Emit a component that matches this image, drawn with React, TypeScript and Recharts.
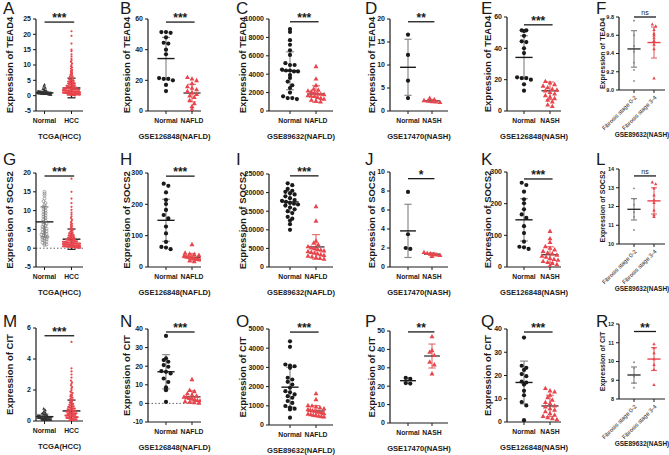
import React from 'react';
import { ScatterChart, Scatter, XAxis, YAxis, ReferenceLine } from 'recharts';

const FONT = '"Liberation Sans", Arial, Helvetica, sans-serif';
const RED = '#e8454d';
const INK = '#1a1a1a';

// ---------- TEAD4 ----------
const tead4TcgaNormal = [3.6, 3.0, 2.6, 2.2, 1.9, 1.7, 1.5, 1.4, 1.35, 1.3, 1.25, 1.2, 1.2, 1.15, 1.1, 1.1, 1.05, 1.0, 1.0, 1.0, 0.95, 0.95, 0.9, 0.9, 0.9, 0.85, 0.85, 0.8, 0.8, 0.8, 0.75, 0.75, 0.7, 0.7, 0.7, 0.65, 0.65, 0.6, 0.6, 0.55, 0.5, 0.5, 0.45, 0.4, 0.35];
const tead4TcgaHcc = [21, 19.5, 17, 15, 14.5, 13.5, 12.8, 12, 11.5, 11, 10.5, 10, 9.6, 9.2, 8.8, 8.4, 8, 7.7, 7.4, 7.1, 6.8, 6.5, 6.3, 6.1, 5.9, 5.7, 5.5, 5.3, 5.1, 5.0, 4.9, 4.8, 4.6, 4.5, 4.4, 4.3, 4.2, 4.1, 4.0, 3.9, 3.8, 3.7, 3.6, 3.5, 3.4, 3.3, 3.2, 3.1, 3.0, 3.0, 2.9, 2.8, 2.8, 2.7, 2.6, 2.6, 2.5, 2.5, 2.4, 2.4, 2.3, 2.3, 2.2, 2.2, 2.1, 2.1, 2.0, 2.0, 1.9, 1.9, 1.9, 1.8, 1.8, 1.8, 1.7, 1.7, 1.7, 1.6, 1.6, 1.6, 1.5, 1.5, 1.5, 1.5, 1.4, 1.4, 1.4, 1.3, 1.3, 1.3, 1.3, 1.2, 1.2, 1.2, 1.2, 1.1, 1.1, 1.1, 1.1, 1.0, 1.0, 1.0, 1.0, 0.9, 0.9, 0.9, 0.9, 0.8, 0.8, 0.8, 0.8, 0.7, 0.7, 0.7, 0.7, 0.6, 0.6, 0.6, 0.6, 0.5, 0.5, 0.5, 0.5, 0.4, 0.4, 0.4, 0.4, 0.3, 0.3, 0.3, 0.2, 0.2, 0.2, 0.1, 0.1];
const tead4TcgaMean = [0.9, 2.5];
const tead4TcgaSd = [0.5, 3.2];

const tead4G126848Normal = [51.5, 51, 51.5, 48, 44.5, 44, 40, 37, 21.5, 21, 21, 20, 17, 13];
const tead4G126848Nafld = [22, 21, 20, 18, 16, 15, 14, 13, 12, 11, 10, 9, 7, 5, 3, 1];
const tead4G126848NafldMean = [34.2, 11.7];
const tead4G126848NafldSd = [13.8, 5.7];

const tead4G89632Normal = [8900, 8600, 7700, 7200, 6600, 6100, 5200, 5000, 5000, 4500, 4400, 4400, 4300, 4300, 3900, 3600, 3200, 2800, 2500, 2000, 1600, 1400, 1400, 1300];
const tead4G89632Nafld = [4850, 3500, 2800, 2400, 2300, 2200, 2100, 2000, 1900, 1850, 1800, 1700, 1650, 1600, 1500, 1400, 1300, 1200, 1100, 1000];
const tead4G89632Mean = [4370, 1850];
const tead4G89632Sd = [2060, 900];

const tead4G17470Normal = [16.6, 12.2, 6.6, 2.8];
const tead4G17470Nash = [2.8, 2.5, 2.3, 2.2, 2.1, 2.0, 1.9];
const tead4G17470Mean = [9.5, 2.2];
const tead4G17470Sd = [6.1, 0.3];

const tead4G126848Nash = [19, 18, 17, 16, 15, 14, 13.5, 13, 12, 11, 10, 9, 8, 7, 6, 4, 3];
const tead4G126848NashMean = [34.2, 12.9];
const tead4G126848NashSd = [13.8, 5.6];

const tead4FibLow = [9.76, 9.6, 9.48, 9.42, 9.3, 9.22, 9.1];
const tead4FibHigh = [9.72, 9.7, 9.66, 9.62, 9.6, 9.57, 9.54, 9.5, 9.45, 9.13];
const tead4FibMean = [9.45, 9.52];
const tead4FibSd = [0.2, 0.17];

// ---------- SOCS2 ----------
const socs2TcgaNormal = [15, 14.5, 14, 13.2, 12.5, 12, 11.5, 11, 10.8, 10.5, 10, 9.7, 9.4, 9, 8.7, 8.4, 8, 7.7, 7.4, 7, 6.8, 6.5, 6.2, 6, 5.7, 5.4, 5.2, 5, 4.7, 4.5, 4.2, 4, 3.8, 3.6, 3.4, 3.2, 3, 2.8, 2.6, 2.4, 2.2, 2, 1.8, 1.5, 1.2, 1, 0.8];
const socs2TcgaHcc = [18.5, 15, 13.2, 12, 11, 10.2, 9.5, 9, 8.5, 8, 7.6, 7.2, 6.8, 6.5, 6.2, 5.9, 5.6, 5.3, 5.1, 4.9, 4.7, 4.5, 4.3, 4.1, 4.0, 3.8, 3.7, 3.6, 3.5, 3.4, 3.3, 3.2, 3.1, 3.0, 2.9, 2.8, 2.7, 2.7, 2.6, 2.5, 2.5, 2.4, 2.3, 2.3, 2.2, 2.1, 2.1, 2.0, 2.0, 1.9, 1.9, 1.8, 1.8, 1.7, 1.7, 1.7, 1.6, 1.6, 1.5, 1.5, 1.5, 1.4, 1.4, 1.4, 1.3, 1.3, 1.3, 1.2, 1.2, 1.2, 1.2, 1.1, 1.1, 1.1, 1.0, 1.0, 1.0, 1.0, 0.9, 0.9, 0.9, 0.9, 0.8, 0.8, 0.8, 0.8, 0.7, 0.7, 0.7, 0.7, 0.6, 0.6, 0.6, 0.6, 0.5, 0.5, 0.5, 0.5, 0.4, 0.4, 0.4, 0.4, 0.3, 0.3, 0.3, 0.3, 0.2, 0.2, 0.2, 0.1, 0.1, 0.1];
const socs2TcgaMean = [7.0, 2.4];
const socs2TcgaSd = [4.0, 2.7];

const socs2G126848Normal = [266, 259, 238, 214, 201, 182, 166, 155, 129, 107, 80, 64, 57, 62];
const socs2G126848Nafld = [72, 45, 42, 40, 38, 35, 33, 32, 30, 29, 28, 26, 25, 23, 20, 18];
const socs2G126848NafldMean = [149, 31];
const socs2G126848NafldSd = [67, 12];

const socs2G89632Normal = [22500, 22000, 21000, 20500, 20200, 19800, 19500, 19000, 18500, 18000, 17800, 17500, 17200, 17000, 16800, 16500, 16000, 15500, 15000, 14500, 13500, 13000, 12500, 11500, 10000];
const socs2G89632Nafld = [16300, 12400, 7000, 6500, 6000, 5500, 5200, 5000, 4800, 4600, 4400, 4200, 4000, 3800, 3600, 3400, 3200, 3000, 2800, 2600, 2400, 2200];
const socs2G89632Mean = [17500, 5400];
const socs2G89632Sd = [2850, 3300];

const socs2G17470Normal = [7.9, 3.45, 1.9, 2.0];
const socs2G17470Nash = [1.55, 1.45, 1.4, 1.35, 1.3, 1.25, 1.15];
const socs2G17470Mean = [3.8, 1.35];
const socs2G17470Sd = [2.8, 0.15];

const socs2G126848Nash = [113, 90, 78, 65, 60, 55, 50, 45, 42, 38, 35, 32, 28, 25, 22, 18, 15, 12, 8, 5];
const socs2G126848NashMean = [149, 39];
const socs2G126848NashSd = [67, 25];

const socs2FibLow = [12.97, 12.4, 12.1, 11.7, 11.45, 10.75];
const socs2FibHigh = [13.3, 13.2, 12.97, 12.6, 12.35, 12.2, 11.8, 11.55, 11.45];
const socs2FibMean = [11.85, 12.3];
const socs2FibSd = [0.57, 0.7];

// ---------- CIT ----------
const citTcgaNormal = [0.8, 0.7, 0.6, 0.55, 0.5, 0.45, 0.42, 0.4, 0.38, 0.35, 0.33, 0.3, 0.3, 0.28, 0.27, 0.25, 0.25, 0.24, 0.22, 0.21, 0.2, 0.2, 0.19, 0.18, 0.17, 0.16, 0.15, 0.15, 0.14, 0.13, 0.12, 0.11, 0.1, 0.1, 0.09, 0.08, 0.07, 0.06, 0.05, 0.04];
const citTcgaHcc = [5.1, 3.4, 3.2, 3.0, 2.8, 2.6, 2.5, 2.4, 2.3, 2.2, 2.1, 2.0, 1.9, 1.85, 1.8, 1.7, 1.65, 1.6, 1.55, 1.5, 1.45, 1.4, 1.35, 1.3, 1.25, 1.2, 1.15, 1.1, 1.1, 1.05, 1.0, 1.0, 0.95, 0.95, 0.9, 0.9, 0.85, 0.85, 0.8, 0.8, 0.8, 0.75, 0.75, 0.7, 0.7, 0.7, 0.65, 0.65, 0.65, 0.6, 0.6, 0.6, 0.55, 0.55, 0.55, 0.5, 0.5, 0.5, 0.5, 0.45, 0.45, 0.45, 0.45, 0.4, 0.4, 0.4, 0.4, 0.35, 0.35, 0.35, 0.35, 0.3, 0.3, 0.3, 0.3, 0.25, 0.25, 0.25, 0.25, 0.2, 0.2, 0.2, 0.2, 0.15, 0.15, 0.15, 0.1, 0.1, 0.1, 0.05, 0.05, 0.05, 0.02, 0.02];
const citTcgaMean = [0.28, 0.65];
const citTcgaSd = [0.17, 0.7];

const citG126848Normal = [36.3, 24.2, 23.3, 22.4, 20.6, 19.7, 17.4, 17.0, 16.1, 13.4, 11.5, 8.6, 7.1, 0.8];
const citG126848Nafld = [12.9, 7.1, 6.5, 5.3, 4.6, 4, 3.5, 3.2, 2.8, 2.6, 2.2, 1.7, 1.4, 1.1, 0.8, 0.5, 0.3];
const citG126848NafldMean = [17, 3.5];
const citG126848NafldSd = [9.2, 3.3];

const citG89632Normal = [4360, 4070, 3150, 3100, 3060, 2980, 2460, 2370, 2250, 2110, 1940, 1760, 1700, 1590, 1500, 1420, 1250, 1150, 990, 900, 850, 810, 380];
const citG89632Nafld = [1640, 1330, 1020, 1000, 950, 900, 850, 810, 780, 750, 730, 700, 680, 640, 600, 580, 550, 520, 500, 470, 450, 430];
const citG89632Mean = [1970, 730];
const citG89632Sd = [1040, 280];

const citG17470Normal = [24.5, 24, 21.7, 21.4];
const citG17470Nash = [47, 39.5, 38.6, 36.8, 33.2, 31.7, 26.8];
const citG17470Mean = [23, 36.4];
const citG17470Sd = [1.6, 6.5];

const citG126848Nash = [14.5, 13.5, 13, 11.6, 10.6, 9.5, 8.5, 8, 7, 6.6, 5.8, 5.2, 4.5, 3.7, 3, 2.5, 2, 1.5, 1.1];
const citG126848NashMean = [17, 6.9];
const citG126848NashSd = [9.2, 4.6];

const citFibLow = [9.96, 9.65, 9.2, 8.85, 8.6];
const citFibHigh = [10.93, 10.72, 10.45, 10.13, 9.83, 9.56, 8.76];
const citFibMean = [9.28, 10.13];
const citFibSd = [0.43, 0.61];

// ---------- layout ----------
const COLS = [
  { left: 0, axisX: 36, right: 83, cat1: 44.5, cat2: 71.5, labelX: 10, letterX: 3, title: 'TCGA(HCC)', cats: ['Normal', 'HCC'] },
  { left: 112, axisX: 148, right: 201, cat1: 166, cat2: 192, labelX: 127, letterX: 120, title: 'GSE126848(NAFLD)', cats: ['Normal', 'NAFLD'] },
  { left: 233, axisX: 269, right: 333, cat1: 290, cat2: 316, labelX: 243, letterX: 236, title: 'GSE89632(NAFLD)', cats: ['Normal', 'NAFLD'] },
  { left: 354, axisX: 390, right: 448, cat1: 408, cat2: 432, labelX: 372, letterX: 365, title: 'GSE17470(NASH)', cats: ['Normal', 'NASH'] },
  { left: 471, axisX: 507, right: 561, cat1: 524, cat2: 550, labelX: 488, letterX: 481, title: 'GSE126848(NASH)', cats: ['Normal', 'NASH'] },
  { left: 597, axisX: 619, right: 665, cat1: 634, cat2: 654, labelX: 603, letterX: 596, title: 'GSE89632(NASH)', cats: ['Fibrosis stage 0-2', 'Fibrosis stage 3-4'] },
];
const LETTER_TOP = [0, 151, 313];

const STYLES: Record<string, any> = {
  hcc: { kind: 'dot', color: RED, s: 1.1, dot: 2.2, gap: 1.1, half: 8.5, mean: INK, bar: INK },
  tcgaTri: { kind: 'tri', color: '#333', s: 1.6, dot: 2.4, gap: 1.5, half: 6.5, mean: INK, bar: '#888' },
  tcgaRing: { kind: 'ring', color: '#777', s: 1.5, dot: 2.6, gap: 2, half: 6, mean: INK, bar: '#888' },
  ctrl: { kind: 'dot', color: INK, s: 2.1, dot: 4.6, gap: 4.6, half: 8, mean: INK, bar: '#8a8a8a' },
  dis: { kind: 'tri', color: RED, s: 2.6, dot: 4.6, gap: 4.6, half: 8, mean: '#444', bar: '#e57373' },
  fib0: { kind: 'dot', color: '#808080', s: 0.9, dot: 3, gap: 3, half: 5, mean: '#333', bar: '#888' },
  fib1: { kind: 'tri', color: RED, s: 1.8, dot: 3.4, gap: 3.4, half: 6, mean: RED, bar: '#e57373' },
};

const std = (top: number, bottom: number) => ({ top, bottom });
const PANELS = [
  { letter: 'A', row: 0, col: 0, ...std(19, 111), gene: 'TEAD4', yDomain: [-5, 25], yTicks: [-5, 0, 5, 10, 15, 20, 25], sig: '***', sigY: 24, data: [tead4TcgaNormal, tead4TcgaHcc], styles: ['tcgaTri', 'hcc'], mean: tead4TcgaMean, sd: tead4TcgaSd },
  { letter: 'B', row: 0, col: 1, ...std(19, 111), gene: 'TEAD4', yDomain: [0, 60], yTicks: [0, 20, 40, 60], sig: '***', sigY: 58, data: [tead4G126848Normal, tead4G126848Nafld], styles: ['ctrl', 'dis'], mean: tead4G126848NafldMean, sd: tead4G126848NafldSd },
  { letter: 'C', row: 0, col: 2, ...std(19, 111), gene: 'TEAD4', yDomain: [0, 10000], yTicks: [0, 2000, 4000, 6000, 8000, 10000], sig: '***', sigY: 9700, data: [tead4G89632Normal, tead4G89632Nafld], styles: ['ctrl', 'dis'], mean: tead4G89632Mean, sd: tead4G89632Sd },
  { letter: 'D', row: 0, col: 3, ...std(19, 111), gene: 'TEAD4', yDomain: [0, 20], yTicks: [0, 5, 10, 15, 20], sig: '**', sigY: 19.4, data: [tead4G17470Normal, tead4G17470Nash], styles: ['ctrl', 'dis'], mean: tead4G17470Mean, sd: tead4G17470Sd },
  { letter: 'E', row: 0, col: 4, ...std(17, 111), gene: 'TEAD4', yDomain: [0, 60], yTicks: [0, 20, 40, 60], sig: '***', sigY: 55, data: [tead4G126848Normal, tead4G126848Nash], styles: ['ctrl', 'dis'], mean: tead4G126848NashMean, sd: tead4G126848NashSd },
  { letter: 'F', row: 0, col: 5, ...std(17, 90), gene: 'TEAD4', yDomain: [9.0, 9.8], yTicks: [9.0, 9.2, 9.4, 9.6, 9.8], dec: 1, sig: 'ns', sigY: 9.8, data: [tead4FibLow, tead4FibHigh], styles: ['fib0', 'fib1'], mean: tead4FibMean, sd: tead4FibSd },

  { letter: 'G', row: 1, col: 0, ...std(173, 267), gene: 'SOCS2', yDomain: [-5, 20], yTicks: [-5, 0, 5, 10, 15, 20], zero: true, sig: '***', sigY: 19.2, data: [socs2TcgaNormal, socs2TcgaHcc], styles: ['tcgaRing', 'hcc'], mean: socs2TcgaMean, sd: socs2TcgaSd },
  { letter: 'H', row: 1, col: 1, ...std(173, 267), gene: 'SOCS2', yDomain: [0, 300], yTicks: [0, 100, 200, 300], sig: '***', sigY: 290, data: [socs2G126848Normal, socs2G126848Nafld], styles: ['ctrl', 'dis'], mean: socs2G126848NafldMean, sd: socs2G126848NafldSd },
  { letter: 'I', row: 1, col: 2, ...std(174, 267), gene: 'SOCS2', yDomain: [0, 25000], yTicks: [0, 5000, 10000, 15000, 20000, 25000], sig: '***', sigY: 24500, data: [socs2G89632Normal, socs2G89632Nafld], styles: ['ctrl', 'dis'], mean: socs2G89632Mean, sd: socs2G89632Sd },
  { letter: 'J', row: 1, col: 3, ...std(172, 267), gene: 'SOCS2', yDomain: [0, 10], yTicks: [0, 2, 4, 6, 8, 10], sig: '*', sigY: 9.3, data: [socs2G17470Normal, socs2G17470Nash], styles: ['ctrl', 'dis'], mean: socs2G17470Mean, sd: socs2G17470Sd },
  { letter: 'K', row: 1, col: 4, ...std(172, 267), gene: 'SOCS2', yDomain: [0, 300], yTicks: [0, 100, 200, 300], sig: '***', sigY: 278, data: [socs2G126848Normal, socs2G126848Nash], styles: ['ctrl', 'dis'], mean: socs2G126848NashMean, sd: socs2G126848NashSd },
  { letter: 'L', row: 1, col: 5, ...std(169, 244), gene: 'SOCS2', yDomain: [10, 14], yTicks: [10, 11, 12, 13, 14], sig: 'ns', sigY: 13.63, data: [socs2FibLow, socs2FibHigh], styles: ['fib0', 'fib1'], mean: socs2FibMean, sd: socs2FibSd },

  { letter: 'M', row: 2, col: 0, ...std(328, 421), gene: 'CIT', yDomain: [0, 6], yTicks: [0, 2, 4, 6], sig: '***', sigY: 5.5, data: [citTcgaNormal, citTcgaHcc], styles: ['tcgaTri', 'hcc'], mean: citTcgaMean, sd: citTcgaSd },
  { letter: 'N', row: 2, col: 1, ...std(329, 422), gene: 'CIT', yDomain: [-10, 40], yTicks: [-10, 0, 10, 20, 30, 40], zero: true, sig: '***', sigY: 38.4, data: [citG126848Normal, citG126848Nafld], styles: ['ctrl', 'dis'], mean: citG126848NafldMean, sd: citG126848NafldSd },
  { letter: 'O', row: 2, col: 2, ...std(329, 425), gene: 'CIT', yDomain: [0, 5000], yTicks: [0, 1000, 2000, 3000, 4000, 5000], sig: '***', sigY: 4840, data: [citG89632Normal, citG89632Nafld], styles: ['ctrl', 'dis'], mean: citG89632Mean, sd: citG89632Sd },
  { letter: 'P', row: 2, col: 3, ...std(331, 423), gene: 'CIT', yDomain: [0, 50], yTicks: [0, 10, 20, 30, 40, 50], sig: '**', sigY: 49.5, data: [citG17470Normal, citG17470Nash], styles: ['ctrl', 'dis'], mean: citG17470Mean, sd: citG17470Sd },
  { letter: 'Q', row: 2, col: 4, ...std(329, 422), gene: 'CIT', yDomain: [0, 40], yTicks: [0, 10, 20, 30, 40], sig: '***', sigY: 38.7, data: [citG126848Normal, citG126848Nash], styles: ['ctrl', 'dis'], mean: citG126848NashMean, sd: citG126848NashSd },
  { letter: 'R', row: 2, col: 5, ...std(324, 399), gene: 'CIT', yDomain: [8, 12], yTicks: [8, 9, 10, 11, 12], sig: '**', sigY: 11.6, data: [citFibLow, citFibHigh], styles: ['fib0', 'fib1'], mean: citFibMean, sd: citFibSd },
];

// beeswarm-like spread: points in the same pixel row sit side by side
function swarm(values: number[], cat: number, yDomain: number[], plotH: number, pxX: number, st: any) {
  const pxY = plotH / (yDomain[1] - yDomain[0]);
  const bins = new Map<number, number[]>();
  [...values].sort((a, b) => b - a).forEach((v) => {
    const k = Math.round(((v - yDomain[0]) * pxY) / st.dot);
    if (!bins.has(k)) bins.set(k, []);
    bins.get(k)!.push(v);
  });
  const pts: { x: number; y: number }[] = [];
  bins.forEach((list) => {
    const n = list.length;
    const step = n > 1 ? Math.min(st.gap, (2 * st.half) / (n - 1)) : 0;
    list.forEach((v, i) => pts.push({ x: cat + ((i - (n - 1) / 2) * step) / pxX, y: v }));
  });
  return pts;
}

const markerShape = (st: any) => (props: any) => {
  const { cx, cy } = props;
  if (cx == null || cy == null) return <g />;
  const s = st.s;
  if (st.kind === 'tri')
    return <path d={`M${cx},${cy - s}L${cx + s * 0.95},${cy + s * 0.7}L${cx - s * 0.95},${cy + s * 0.7}Z`} fill={st.color} />;
  if (st.kind === 'ring') return <circle cx={cx} cy={cy} r={s} fill="none" stroke={st.color} strokeWidth={0.6} />;
  return <circle cx={cx} cy={cy} r={s} fill={st.color} />;
};

function Panel({ p }: { p: any }) {
  const c = COLS[p.col];
  const fib = p.col === 5;
  const mt = 16;
  const mr = fib ? 4 : 22;
  const xh = fib ? 54 : 32;
  const yw = c.axisX - c.left;
  const plotW = c.right - c.axisX;
  const plotH = p.bottom - p.top;
  const sp = c.cat2 - c.cat1;
  const xDom = [1 - (c.cat1 - c.axisX) / sp, 2 + (c.right - c.cat2) / sp];
  const W = yw + plotW + mr;
  const H = mt + plotH + xh;
  const tickFs = fib ? 5.5 : 7;
  const catTick = (props: any) => {
    const { x, y, payload } = props;
    const name = c.cats[Math.round(payload.value) - 1];
    if (fib) {
      const ax = x + 3;
      const ay = y + 3;
      return (
        <text x={ax} y={ay} textAnchor="end" fontSize={5.8} fill={INK} transform={`rotate(-45 ${ax} ${ay})`}>
          {name}
        </text>
      );
    }
    return (
      <text x={x} y={y + 7} textAnchor="middle" fontSize={6.8} fontWeight={700} fill={INK}>
        {name}
      </text>
    );
  };

  return (
    <div style={{ position: 'absolute', left: c.left, top: p.top - mt }}>
      <ScatterChart width={W} height={H} margin={{ top: mt, right: mr, bottom: 0, left: 0 }}>
        <XAxis
          type="number"
          dataKey="x"
          domain={xDom}
          ticks={[1, 2]}
          allowDataOverflow
          height={xh}
          tickSize={3}
          tickMargin={2}
          tick={catTick}
          axisLine={{ stroke: INK, strokeWidth: 1.2 }}
          tickLine={{ stroke: INK }}
          label={{ value: c.title, position: 'insideBottom', offset: fib ? 7 : 4, fontSize: fib ? 6.5 : 7.6, fontWeight: 700, fill: INK }}
        />
        <YAxis
          type="number"
          dataKey="y"
          domain={p.yDomain}
          ticks={p.yTicks}
          allowDataOverflow
          width={yw}
          tickSize={3}
          tickMargin={2}
          tickFormatter={(v: number) => (p.dec ? v.toFixed(p.dec) : String(v))}
          tick={{ fontSize: tickFs, fontWeight: 700, fill: INK }}
          axisLine={{ stroke: INK, strokeWidth: 1.2 }}
          tickLine={{ stroke: INK }}
          label={{
            value: `Expression of ${p.gene}`,
            angle: -90,
            position: 'insideLeft',
            offset: c.labelX - c.left,
            fontSize: fib ? 7 : 9.5,
            fontWeight: 700,
            fill: INK,
            style: { textAnchor: 'middle' },
          }}
        />
        {p.zero && <ReferenceLine y={0} stroke="#666" strokeDasharray="1.5 2" strokeWidth={1} />}
        {p.data.map((vals: number[], i: number) => {
          const st = STYLES[p.styles[i]];
          return (
            <Scatter
              key={`s${i}`}
              data={swarm(vals, i + 1, p.yDomain, plotH, sp, st)}
              shape={markerShape(st)}
              isAnimationActive={false}
            />
          );
        })}
        {p.data.map((_: number[], i: number) => {
          const st = STYLES[p.styles[i]];
          const cx = i + 1;
          const m = p.mean[i];
          const s = p.sd[i];
          return [
            <ReferenceLine key={`v${i}`} segment={[{ x: cx, y: m - s }, { x: cx, y: m + s }]} stroke={st.bar} strokeWidth={1.2} ifOverflow="hidden" />,
            <ReferenceLine key={`u${i}`} segment={[{ x: cx - 0.15, y: m + s }, { x: cx + 0.15, y: m + s }]} stroke={st.bar} strokeWidth={1.2} ifOverflow="hidden" />,
            <ReferenceLine key={`l${i}`} segment={[{ x: cx - 0.15, y: m - s }, { x: cx + 0.15, y: m - s }]} stroke={st.bar} strokeWidth={1.2} ifOverflow="hidden" />,
            <ReferenceLine key={`m${i}`} segment={[{ x: cx - 0.33, y: m }, { x: cx + 0.33, y: m }]} stroke={st.mean} strokeWidth={1.4} ifOverflow="hidden" />,
          ];
        })}
        <ReferenceLine
          segment={[{ x: 1, y: p.sigY }, { x: 2.1, y: p.sigY }]}
          stroke={INK}
          strokeWidth={1.3}
          ifOverflow="visible"
          label={{
            value: p.sig,
            position: 'top',
            offset: p.sig === 'ns' ? 2 : 0,
            fontSize: p.sig === 'ns' ? 7 : 12,
            fontWeight: p.sig === 'ns' ? 400 : 700,
            fill: INK,
          }}
        />
      </ScatterChart>
    </div>
  );
}

export default function App() {
  return (
    <div style={{ position: 'absolute', left: 0, top: 0, width: 669, height: 455, background: '#fff', fontFamily: FONT, overflow: 'hidden' }}>
      {PANELS.map((p) => (
        <div
          key={`L${p.letter}`}
          style={{ position: 'absolute', left: COLS[p.col].letterX, top: LETTER_TOP[p.row], fontSize: 17, lineHeight: 1, color: INK }}
        >
          {p.letter}
        </div>
      ))}
      {PANELS.map((p) => (
        <Panel key={p.letter} p={p} />
      ))}
    </div>
  );
}
